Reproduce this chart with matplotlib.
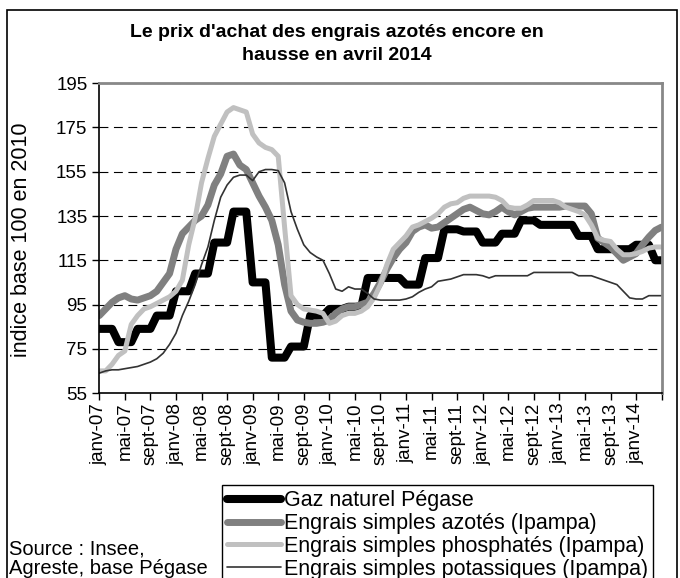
import matplotlib
matplotlib.use('Agg')
import matplotlib.pyplot as plt
from matplotlib.patches import Rectangle

plt.rcParams['font.family'] = ['Liberation Sans', 'DejaVu Sans']

# indices mensuels, janv-07 -> mai-14 (base 100 en 2010)
gaz = [84, 84, 84, 78, 78, 78, 84, 84, 84, 90, 90, 90,
       101, 101, 101, 109, 109, 109, 123, 123, 123, 137, 137, 137,
       105, 105, 105, 71, 71, 71, 76, 76, 76, 90, 90, 90,
       93, 93, 93, 94, 94, 94, 107, 107, 107, 107, 107, 107,
       104, 104, 104, 116, 116, 116, 129, 129, 129, 128, 128, 128,
       123, 123, 123, 127, 127, 127, 133, 133, 133, 131, 131, 131,
       131, 131, 131, 126, 126, 126, 120, 120, 120, 120, 120, 120,
       122, 122, 122, 115, 115]
azotes = [90, 93, 96, 98, 99, 97.5, 97, 98, 99, 101, 105, 109,
          120, 127, 130, 133, 135, 140, 149, 154, 162, 163, 158, 156,
          150, 144, 139, 133, 122, 104, 92, 88, 87, 86.5, 86.5, 87,
          88, 91, 93, 94, 94, 95, 96, 100, 105, 111, 116, 120,
          123, 128, 130, 131, 129.5, 130, 132, 134, 136, 138, 139, 137.5,
          136, 135.5, 137, 139, 137, 135.5, 137, 138.5, 139, 139, 139, 139,
          139, 139.5, 139.5, 139.5, 139.5, 136, 125, 123, 121, 118, 115, 116.5,
          118, 122, 125.5, 128.5, 130]
phosphates = [65, 65, 68, 72, 74, 86, 90, 93, 94, 95.5, 97, 98.5,
              101, 106, 122, 134, 150, 161, 171, 176.5, 182, 184, 183, 182,
              172, 168, 166, 165, 162, 130, 99, 95, 93, 92.5, 92, 91,
              86.5, 87.5, 90, 91, 91, 92, 94, 98, 104, 113, 120, 123,
              126, 130, 131, 132.5, 134, 136, 139, 140.5, 141, 143, 144, 144,
              144, 144, 143.5, 142, 139, 138.5, 138.5, 140, 142, 142, 142, 142,
              141, 139, 138, 137, 135.5, 131, 125, 124, 123.5, 120, 117.5, 117.5,
              118, 119, 120.5, 121, 121]
potassiques = [64, 65, 65.5, 65.5, 66, 66.5, 67, 68, 69, 70.5, 73, 77,
               82, 90, 96.5, 104, 113, 121, 133, 143.5, 149, 152.5, 153.5, 153.5,
               151, 155, 156, 156, 155.5, 150, 137, 129, 122, 118.5, 116.5, 115,
               109, 102, 101, 103, 102, 102, 100, 97.5, 97, 97, 97, 97,
               97.5, 98.5, 100.5, 102, 103, 105.5, 106, 106.5, 107.5, 108.5, 108.5, 108.5,
               108, 107, 108, 108, 108, 108, 108, 108, 109.5, 109.5, 109.5, 109.5,
               109.5, 109.5, 109.5, 108, 108, 108, 107, 106, 105, 104, 101, 98,
               97.5, 97.5, 99, 99, 99]

labels = ['Gaz naturel Pégase', 'Engrais simples azotés (Ipampa)',
          'Engrais simples phosphatés (Ipampa)', 'Engrais simples potassiques (Ipampa)']
tick_labels = ['janv-07', 'mai-07', 'sept-07', 'janv-08', 'mai-08', 'sept-08',
               'janv-09', 'mai-09', 'sept-09', 'janv-10', 'mai-10', 'sept-10',
               'janv-11', 'mai-11', 'sept-11', 'janv-12', 'mai-12', 'sept-12',
               'janv-13', 'mai-13', 'sept-13', 'janv-14', '']
y_ticks = [55, 75, 95, 115, 135, 155, 175, 195]

fig = plt.figure(figsize=(6.8, 5.78), dpi=100)
ax = fig.add_axes([0.146, 0.320, 0.827, 0.536])

x = range(len(gaz))
styles = [('black', 5.8), ('#808080', 5.0), ('#c0c0c0', 3.6), ('#333333', 1.2)]
for serie, lab, (col, lw) in zip([gaz, azotes, phosphates, potassiques], labels, styles):
    ax.plot(x, serie, color=col, lw=lw, label=lab,
            solid_joinstyle='round', solid_capstyle='round')

ax.set_xlim(0, 88)
ax.set_ylim(55, 195)
ax.set_yticks(y_ticks)
ax.set_xticks(range(0, 89, 4))
ax.set_xticklabels(tick_labels, rotation=90, fontsize=13.5)
ax.tick_params(axis='y', labelsize=13.5, length=5, width=1)
ax.tick_params(axis='x', length=5, width=1, pad=2)
for yv in y_ticks[1:]:
    ax.axhline(yv, color='black', lw=0.8, dashes=(8, 5), zorder=0)

for s in ['left', 'bottom']:
    ax.spines[s].set_linewidth(1.2)
for s in ['top', 'right']:
    ax.spines[s].set_color('#888888')
    ax.spines[s].set_linewidth(2)

fig.text(337 / 680, 1 - 44 / 578, "Le prix d'achat des engrais azotés encore en\nhausse en avril 2014",
         ha='center', va='center', fontsize=14, fontweight='bold', linespacing=1.45)
fig.text(22 / 680, 1 - 240 / 578, 'indice base 100 en 2010', rotation=90,
         ha='center', va='center', fontsize=15.5)
fig.text(9 / 680, 1 - 549 / 578, 'Source : Insee,', ha='left', va='center', fontsize=14.5)
fig.text(9 / 680, 1 - 568 / 578, 'Agreste, base Pégase', ha='left', va='center', fontsize=14.5)

leg = fig.legend(loc='upper left', bbox_to_anchor=(222 / 680, 1 - 485 / 578),
                 fontsize=15.5, frameon=True, fancybox=False, framealpha=1,
                 edgecolor='black', handlelength=2.5, handletextpad=0.12,
                 labelspacing=0.08, borderpad=0.25, borderaxespad=0)
leg.get_frame().set_linewidth(1)

fig.patches.append(Rectangle((7 / 680, -0.01), 670 / 680, 1 - 10 / 578 + 0.01,
                             transform=fig.transFigure, fill=False,
                             edgecolor='black', lw=1.2))

fig.savefig('out.png', dpi=100)
